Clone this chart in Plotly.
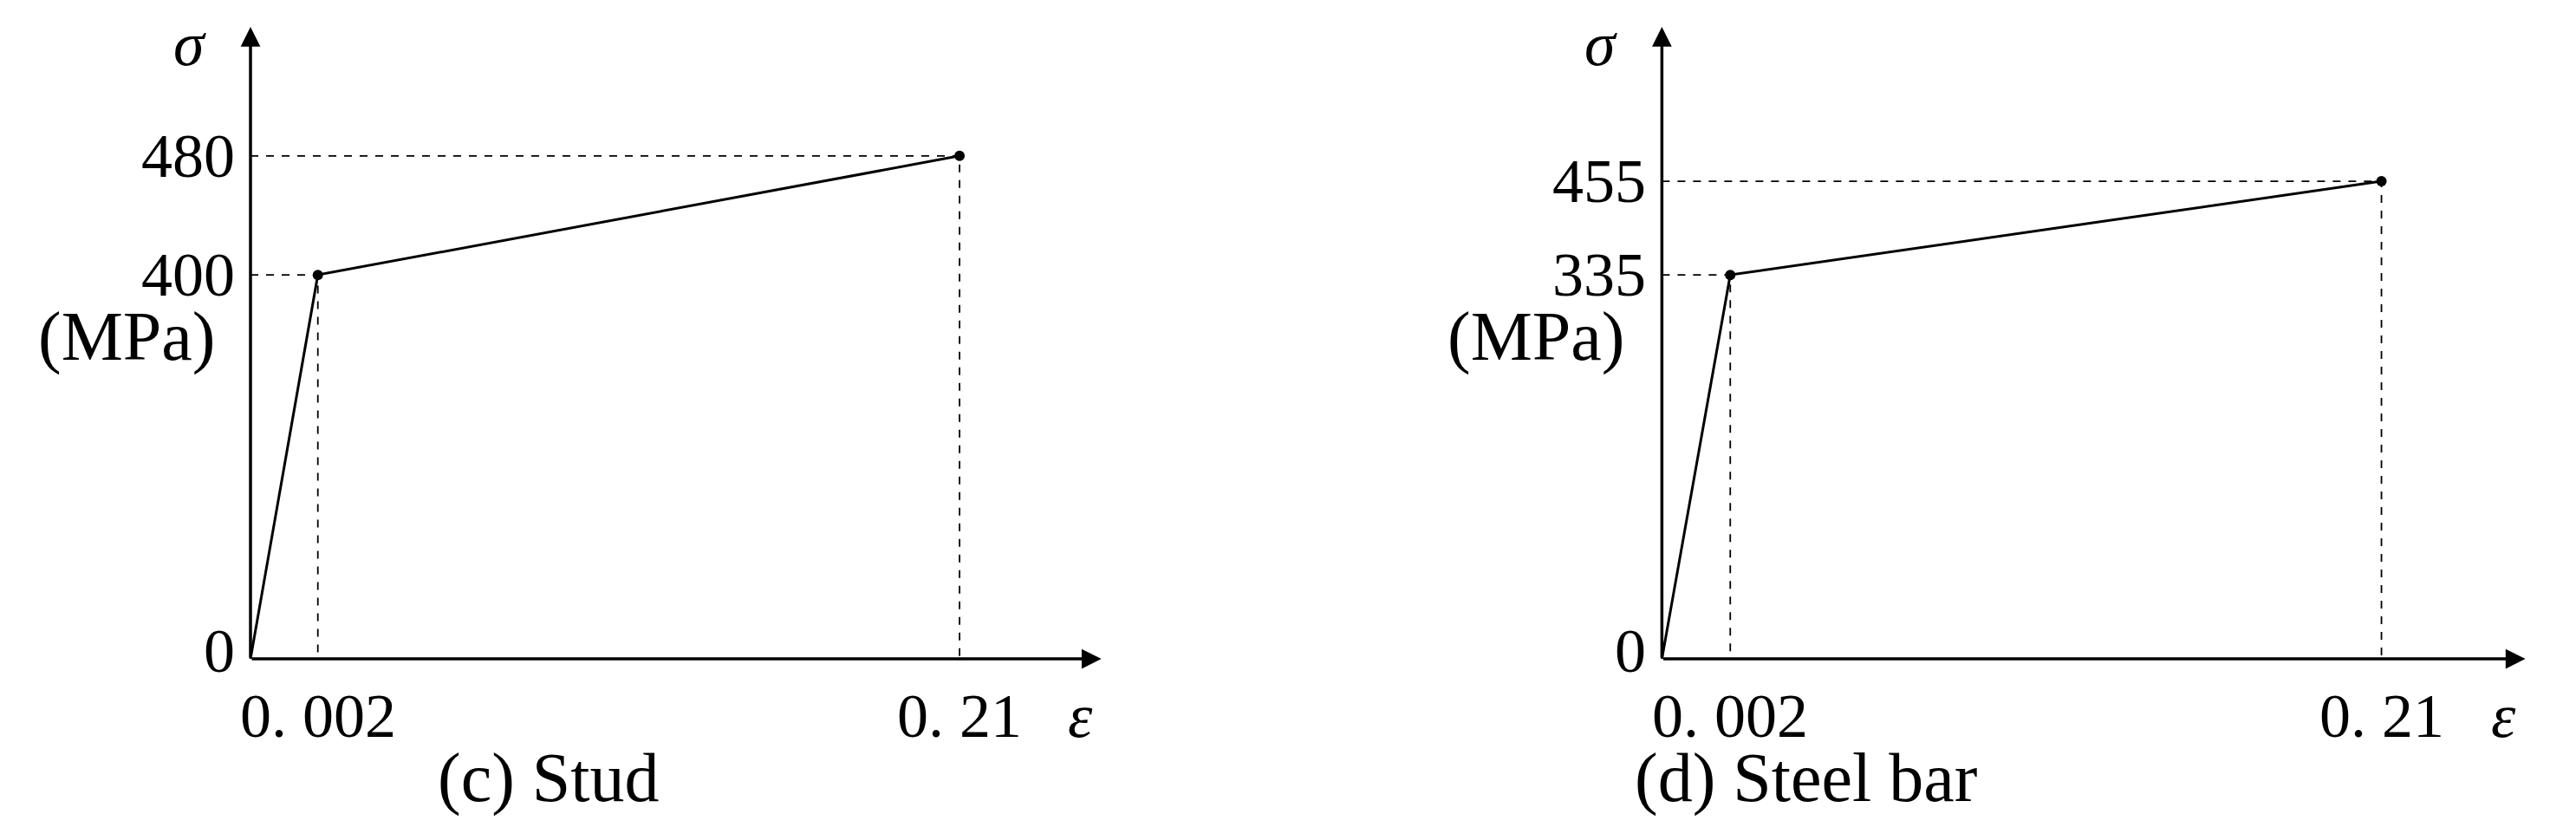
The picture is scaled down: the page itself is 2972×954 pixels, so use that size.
import plotly.graph_objects as go

# schematic stress-strain models (positions on the drawing are schematic, not to scale)
strain_labels = ["0", "0. 002", "0. 21"]
x_pos = [0, 0.95, 10]

stud_stress = [0, 400, 480]
stud_ypos = [0, 1, 1.31]
bar_stress = [0, 335, 455]
bar_ypos = [0, 1, 1.244]

captions = ["(c) Stud", "(d) Steel bar"]
FONT = "Liberation Serif"

fig = go.Figure()
panels = [("x", "y", stud_stress, stud_ypos, captions[0], 4.2, [-3.435, 14.73]),
          ("x2", "y2", bar_stress, bar_ypos, captions[1], 2.0, [-5.1, 12.8])]

for xa, ya, stress, ypos, cap, capx, xr in panels:
    # curve
    fig.add_trace(go.Scatter(x=x_pos, y=ypos, mode="lines", xaxis=xa, yaxis=ya,
                             line=dict(color="black", width=3), showlegend=False))
    fig.add_trace(go.Scatter(x=x_pos[1:], y=ypos[1:], mode="markers", xaxis=xa, yaxis=ya,
                             marker=dict(color="black", size=12), showlegend=False))
    # dashed guides
    for xp, yp in zip(x_pos[1:], ypos[1:]):
        fig.add_trace(go.Scatter(x=[0, xp, xp], y=[yp, yp, 0], mode="lines", xaxis=xa, yaxis=ya,
                                 line=dict(color="black", width=1.8, dash="dash"), showlegend=False))
    ref = dict(xref=xa, yref=ya)
    # axes with arrows
    for tip in [(12, 0), (0, 1.646)]:
        fig.add_annotation(x=tip[0], y=tip[1], ax=0, ay=0, axref=xa, ayref=ya, showarrow=True,
                           text="", arrowhead=2, arrowsize=1.3, arrowwidth=3.5,
                           arrowcolor="black", **ref)
    f = dict(family=FONT, size=72, color="black")
    for s, yp in zip(stress[1:], ypos[1:]):
        fig.add_annotation(x=-0.2, y=yp, text=str(s), showarrow=False, xanchor="right", font=f, **ref)
    fig.add_annotation(x=-0.2, y=0.02, text="0", showarrow=False, xanchor="right", font=f, **ref)
    for lab, xp in zip(strain_labels[1:], x_pos[1:]):
        fig.add_annotation(x=xp, y=-0.15, text=lab, showarrow=False, font=f, **ref)
    fig.add_annotation(x=11.7, y=-0.15, text="<i>ε</i>", showarrow=False, font=f, **ref)
    fig.add_annotation(x=-0.85, y=1.6, text="<i>σ</i>", showarrow=False, font=f, **ref)
    fig.add_annotation(x=-1.75, y=0.84, text="(MPa)", showarrow=False, font=dict(family=FONT, size=80, color="black"), **ref)
    fig.add_annotation(x=capx, y=-0.31, text=cap, showarrow=False,
                       font=dict(family=FONT, size=80, color="black"), **ref)

hidden = dict(visible=False, fixedrange=True)
fig.update_layout(
    width=2972, height=954, margin=dict(l=0, r=0, t=0, b=0),
    plot_bgcolor="white", paper_bgcolor="white",
    xaxis=dict(domain=[0, 0.5], range=panels[0][6], **hidden),
    xaxis2=dict(domain=[0.5, 1], range=panels[1][6], **hidden),
    yaxis=dict(domain=[0, 1], range=[-0.456, 1.698], anchor="x", **hidden),
    yaxis2=dict(domain=[0, 1], range=[-0.456, 1.698], anchor="x2", **hidden),
)
fig.write_html("out.html")
